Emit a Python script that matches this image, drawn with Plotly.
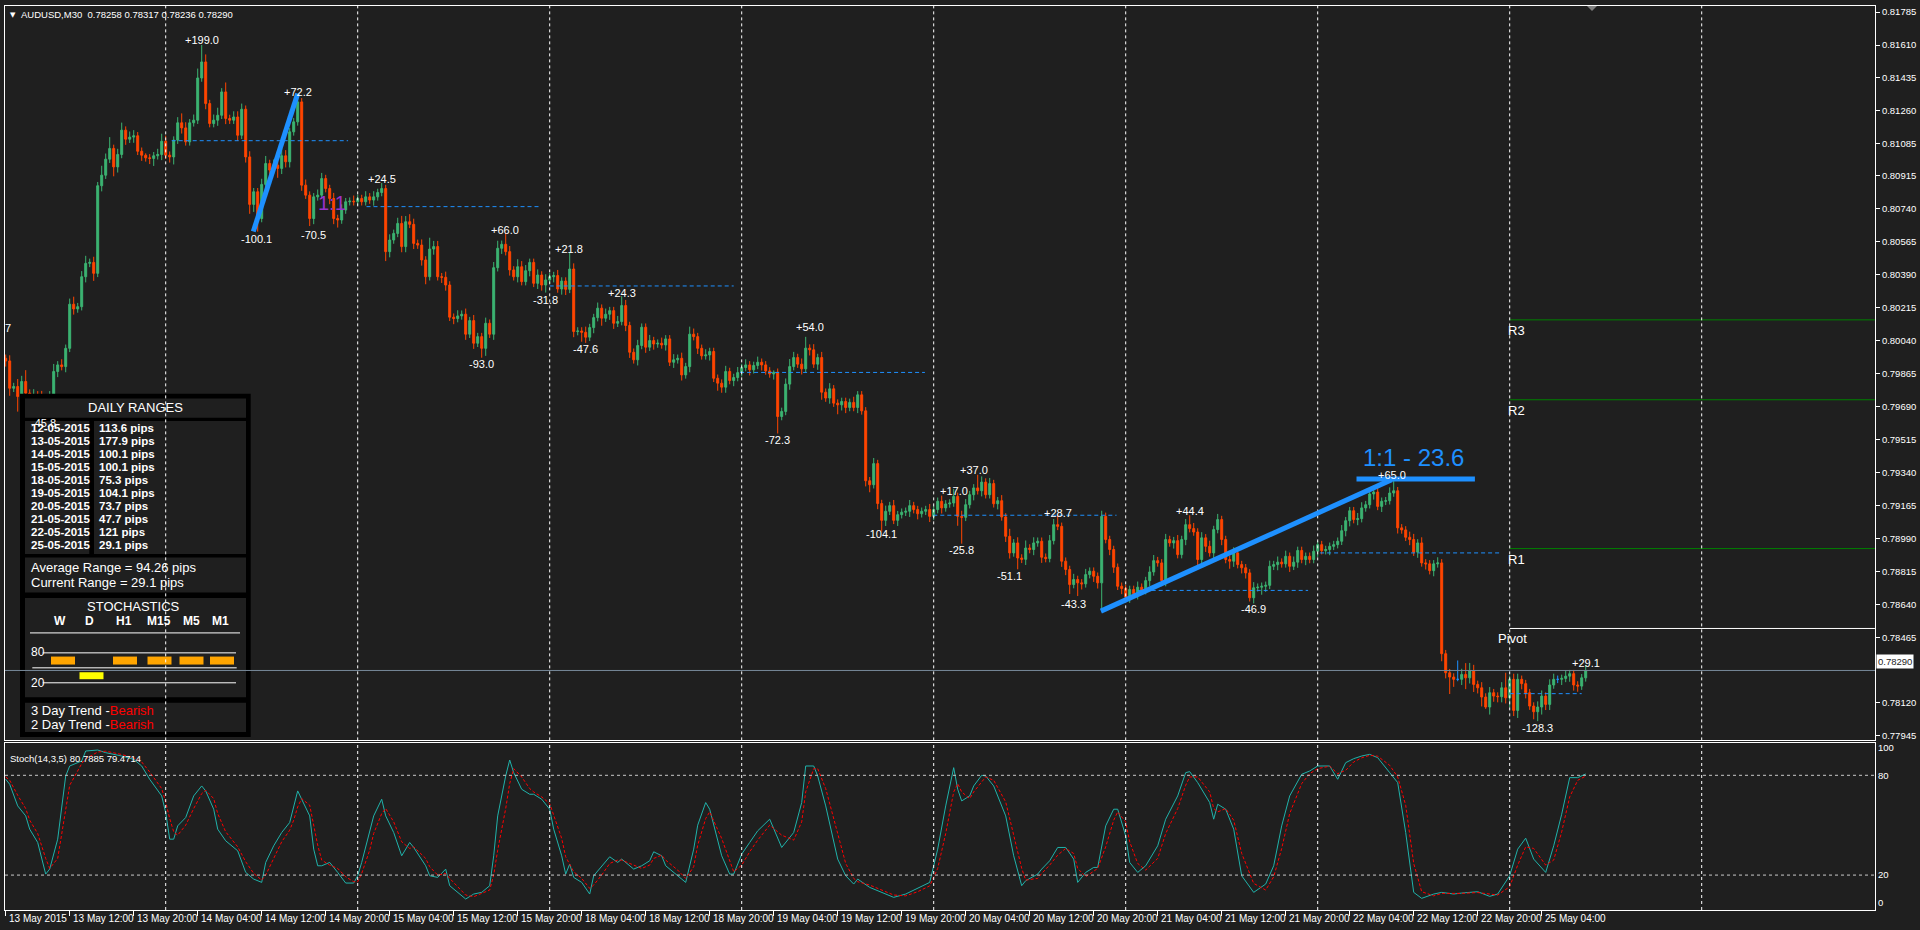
import plotly.graph_objects as go

# ============================ DATA ============================
SYMBOL = "AUDUSD,M30"
header_ohlc = ["0.78258", "0.78317", "0.78236", "0.78290"]
PIP = 0.0001
BASE_PRICE = 0.78000          # bar values below are pips above this price

first_open_pips = 194.7
close_pips = [
    193.3, 178.8, 179.7, 174.4, 182.4, 176.2, 171.8, 175.3, 174.4, 166.5,
    172.7, 175.3, 187.7, 191.2, 190.3, 200.0, 223.4, 220.9, 222.1, 238.0,
    245.1, 245.6, 239.8, 286.3, 291.9, 300.4, 306.1, 296.3, 302.9, 315.8,
    311.0, 312.1, 312.8, 304.6, 302.5, 301.1, 300.8, 302.2, 302.9, 309.9,
    302.5, 301.6, 310.5, 319.7, 317.0, 309.6, 319.7, 321.1, 343.5, 352.0,
    329.9, 319.3, 321.1, 323.7, 336.1, 322.0, 321.1, 322.8, 313.1, 326.9,
    301.6, 276.4, 283.1, 268.9, 287.0, 298.1, 294.6, 297.2, 295.5, 302.2,
    299.0, 314.9, 320.2, 330.8, 286.6, 281.3, 268.9, 280.4, 281.3, 290.1,
    284.8, 279.5, 268.9, 268.1, 273.4, 277.8, 278.1, 277.8, 279.5, 277.8,
    280.4, 278.7, 280.4, 282.7, 284.8, 251.3, 257.5, 261.0, 266.3,
    254.0, 267.2, 265.8, 255.7, 254.8, 246.9, 238.0, 252.7, 254.0, 238.0,
    237.7, 233.6, 216.5, 215.8, 217.2, 218.1, 207.5, 214.7, 202.7, 206.2,
    200.0, 213.3, 207.5, 242.8, 253.1, 255.2, 251.3, 241.6, 238.0, 243.3,
    235.4, 241.2, 245.6, 234.5, 238.9, 233.6, 236.3, 238.0, 238.6, 231.5,
    235.7, 231.3, 242.1, 208.9, 209.2, 208.5, 205.9, 211.0, 216.3, 221.3,
    216.0, 218.1, 220.0, 213.3, 214.2, 222.7, 212.1, 197.9, 193.9, 201.5,
    211.2, 200.6, 204.1, 202.3, 202.7, 201.8, 205.0, 192.6, 193.9, 194.7,
    185.9, 190.3, 207.5, 206.2, 200.0, 196.0, 196.5, 198.3, 184.1, 181.5,
    179.4, 187.7, 182.9, 184.5, 187.1, 189.8, 191.2, 188.6, 190.9, 192.6,
    191.2, 188.0, 186.4, 187.3, 163.8, 166.5, 181.0, 190.3, 195.1, 191.6,
    189.1, 200.1, 199.2, 191.6, 195.1, 176.7, 173.6, 178.5, 170.9, 170.0,
    171.8, 168.6, 171.3, 168.6, 175.3, 166.8, 129.7, 127.6, 138.8, 117.6,
    108.7, 113.5, 116.5, 108.7, 111.7, 113.0, 113.5, 116.5, 114.4, 112.2,
    113.5, 114.4, 110.8, 114.4, 118.8, 115.3, 117.4, 117.9, 121.4, 110.8,
    110.3, 117.0, 122.3, 125.9, 124.4, 129.0, 122.3, 128.2, 117.5, 119.1,
    110.5, 100.2, 91.4, 96.7, 88.7, 88.0, 94.0, 93.2, 96.7, 97.6,
    89.1, 88.4, 97.9, 106.4, 105.5, 87.0, 82.6, 74.6, 77.3, 75.5,
    75.0, 79.9, 81.7, 79.0, 75.5, 110.8, 98.5, 93.2, 83.8, 73.7,
    72.5, 67.9, 72.0, 69.7, 73.2, 71.4, 76.7, 81.3, 87.3, 86.1,
    76.7, 98.5, 96.7, 97.9, 90.5, 98.5, 106.4, 104.3, 102.5, 87.9,
    99.4, 94.9, 91.4, 103.8, 109.1, 98.5, 87.9, 87.0, 91.4, 85.2,
    83.5, 80.8, 67.6, 72.9, 73.2, 73.7, 74.2, 84.3, 85.2, 86.5,
    85.6, 89.6, 84.3, 86.5, 92.7, 87.9, 89.6, 87.9, 92.3, 95.8,
    92.6, 93.2, 94.9, 95.8, 97.6, 103.2, 108.5, 113.8, 109.1, 109.6,
    115.3, 117.0, 122.7, 123.7, 116.1, 118.8, 119.1, 123.2, 124.4, 104.7,
    103.6, 99.7, 98.5, 91.8, 96.7, 86.1, 85.6, 82.0, 85.6, 86.1,
    37.9, 27.8, 25.5, 24.3, 24.3, 26.9, 25.1, 29.0, 21.6, 19.8,
    14.9, 9.6, 17.2, 15.4, 15.1, 19.8, 14.5, 24.3, 7.8, 24.3,
    22.0, 17.2, 10.1, 7.1, 9.6, 15.4, 11.0, 21.3, 24.3, 24.3,
    24.8, 26.0, 27.3, 21.3, 20.7, 25.1, 29.0,
]
upper_wick_pips = [
    2, 3, 2, 4, 3, 6, 2, 3, 2, 3,   3, 2, 4, 2, 3, 2, 3, 4, 2, 3,
    4, 2, 3, 2, 5, 3, 6, 2, 3, 4,   2, 3, 3, 2, 2, 1, 2, 2, 3, 4,
    3, 2, 2, 3, 5, 3, 2, 3, 5, 9,   4, 2, 3, 4, 2, 5, 2, 3, 3, 3,
    2, 3, 2, 2, 3, 4, 2, 3, 2, 4,   3, 2, 2, 4, 2, 3, 2, 2, 3, 3,
    2, 2, 3, 2, 3, 2, 2, 3, 2, 2,   3, 2, 3, 2, 3, 2, 3, 2, 3, 4,
    3, 4, 3, 2, 3, 2, 6, 3, 3, 2,   3, 2, 2, 3, 2, 3, 2, 3, 2, 2,
    3, 2, 3, 4, 2, 6, 3, 2, 4, 3,   3, 2, 2, 3, 2, 3, 2, 2, 3, 2,
    2, 9, 3, 2, 2, 3, 2, 2, 3, 2,   3, 2, 2, 3, 5, 3, 2, 2, 3, 2,
    2, 3, 2, 2, 3, 2, 2, 3, 2, 3,   2, 4, 3, 2, 2, 3, 2, 2, 2, 2,
    3, 2, 2, 3, 2, 3, 2, 2, 3, 2,   2, 2, 1, 2, 2, 3, 4, 3, 2, 3,
    6, 2, 3, 2, 3, 2, 3, 2, 2, 2,   2, 2, 3, 2, 2, 2, 2, 3, 2, 2,
    3, 2, 3, 2, 2, 2, 3, 2, 2, 2,   2, 3, 2, 2, 3, 2, 2, 4, 2, 3,
    3, 2, 2, 7, 3, 2, 3, 2, 2, 3,   2, 4, 2, 3, 2, 4, 2, 3, 2, 2,
    2, 3, 3, 5, 2, 2, 2, 3, 2, 2,   3, 2, 2, 2, 3, 2, 2, 2, 2, 2,
    2, 2, 2, 3, 2, 2, 3, 3, 2, 2,   3, 2, 2, 3, 2, 3, 5, 3, 2, 3,
    2, 3, 2, 3, 2, 2, 2, 3, 2, 2,   2, 2, 3, 2, 2, 2, 3, 2, 3, 2,
    3, 2, 3, 2, 2, 2, 2, 3, 2, 2,   2, 2, 2, 2, 3, 2, 2, 2, 3, 3,
    2, 3, 2, 3, 2, 2, 3, 6, 2, 2,   2, 3, 3, 2, 3, 2, 2, 2, 3, 2,
    2, 2, 2, 10, 3, 6, 4, 3, 2, 3,  2, 3, 2, 2, 3, 8, 2, 3, 3, 2,
    2, 2, 2, 3, 3, 2, 3, 3, 2, 2,   3, 2, 2, 2, 2, 3,
]
lower_wick_pips = [
    3, 4, 2, 8, 2, 3, 2, 3, 2, 3,   4, 2, 2, 3, 2, 3, 2, 3, 2, 2,
    3, 2, 4, 2, 3, 2, 2, 5, 3, 2,   3, 2, 3, 2, 3, 2, 3, 4, 2, 3,
    2, 3, 4, 2, 3, 2, 2, 2, 2, 2,   3, 2, 2, 3, 2, 3, 2, 2, 3, 2,
    3, 5, 4, 7, 2, 3, 3, 2, 5, 3,   3, 3, 2, 2, 3, 2, 4, 3, 2, 2,
    2, 3, 3, 4, 2, 2, 2, 2, 2, 2,   2, 2, 3, 2, 2, 5, 3, 2, 2, 3,
    3, 2, 3, 2, 3, 4, 2, 3, 2, 3,   3, 2, 3, 2, 2, 3, 2, 3, 2, 5,
    4, 2, 3, 2, 3, 2, 3, 2, 3, 2,   2, 3, 2, 3, 3, 4, 2, 3, 2, 3,
    3, 2, 3, 2, 5, 3, 2, 3, 2, 4,   2, 3, 3, 2, 2, 3, 3, 2, 3, 2,
    3, 2, 3, 2, 2, 3, 2, 3, 2, 3,   2, 3, 2, 3, 2, 2, 3, 2, 4, 3,
    3, 2, 3, 2, 2, 2, 3, 2, 2, 3,   2, 2, 3, 9, 2, 2, 3, 2, 2, 3,
    2, 3, 2, 3, 4, 2, 3, 2, 5, 3,   3, 2, 2, 3, 2, 3, 4, 2, 3, 6,
    3, 2, 2, 3, 2, 2, 3, 2, 3, 2,   2, 3, 2, 2, 3, 2, 2, 2, 5, 14,
    2, 2, 3, 2, 3, 2, 2, 2, 3, 2,   3, 3, 2, 6, 2, 3, 2, 3, 2, 3,
    2, 2, 2, 2, 3, 3, 5, 2, 7, 3,   2, 2, 3, 3, 15, 2, 3, 3, 2, 3,
    2, 3, 2, 3, 2, 2, 3, 2, 2, 3,   3, 2, 3, 2, 2, 3, 2, 2, 3, 2,
    3, 2, 3, 2, 3, 2, 4, 3, 2, 3,   3, 2, 3, 2, 4, 3, 2, 2, 3, 2,
    2, 3, 2, 3, 2, 3, 2, 2, 3, 2,   2, 3, 2, 2, 2, 3, 3, 2, 3, 2,
    2, 2, 3, 2, 3, 2, 2, 2, 3, 2,   2, 3, 2, 3, 2, 3, 2, 3, 2, 4,
    3, 9, 4, 1, 3, 6, 3, 4, 3, 5,   1, 4, 3, 3, 3, 3, 5, 3, 4, 3,
    3, 2, 4, 5, 4, 3, 3, 2, 2, 3,   2, 3, 3, 3, 2, 2,
]

time_label_bars = [0, 16, 32, 48, 64, 80, 96, 112, 128, 144, 160, 176, 192,
                   208, 224, 240, 256, 272, 288, 304, 320, 336, 352, 368, 384]
time_labels = ["13 May 2015", "13 May 12:00", "13 May 20:00", "14 May 04:00",
               "14 May 12:00", "14 May 20:00", "15 May 04:00", "15 May 12:00",
               "15 May 20:00", "18 May 04:00", "18 May 12:00", "18 May 20:00",
               "19 May 04:00", "19 May 12:00", "19 May 20:00", "20 May 04:00",
               "20 May 12:00", "20 May 20:00", "21 May 04:00", "21 May 12:00",
               "21 May 20:00", "22 May 04:00", "22 May 12:00", "22 May 20:00",
               "25 May 04:00"]
day_start_bars = [40, 88, 136, 184, 232, 280, 328, 376, 424]

price_tick_values = [0.81785, 0.81610, 0.81435, 0.81260, 0.81085, 0.80915,
                     0.80740, 0.80565, 0.80390, 0.80215, 0.80040, 0.79865,
                     0.79690, 0.79515, 0.79340, 0.79165, 0.78990, 0.78815,
                     0.78640, 0.78465, 0.78120, 0.77945]
current_price = 0.78290

# swing labels (text, bar, pips above base)
swing_text = ["+199.0", "-100.1", "+72.2", "-70.5", "+24.5", "-93.0", "+66.0",
              "-31.8", "+21.8", "-47.6", "+24.3", "-72.3", "+54.0", "-104.1",
              "+17.0", "+37.0", "-25.8", "-51.1", "+28.7", "-43.3", "+44.4",
              "-46.9", "+65.0", "-128.3", "+29.1", "-45.8", "7"]
swing_bar = [49, 62.75, 73, 76.9, 94, 119, 124.9, 135, 140.9, 145, 154, 193,
             201, 219, 237, 242, 239, 251, 263, 267, 296, 312, 346.5, 383,
             395, 9.4, 0.65]
swing_pips = [363.5, 258.0, 335.8, 260.2, 290.1, 191.6, 262.8, 225.7, 252.7,
              199.7, 229.6, 151.5, 211.2, 101.7, 124.1, 135.2, 92.8, 79.1,
              112.6, 64.1, 113.5, 61.4, 132.6, -1.4, 33.1, 160.3, 210.6]

# dashed blue levels
level_pips = [310.2, 275.2, 233.1, 187.2, 111.4, 71.5, 91.4, 16.7]
level_from_bar = [41.5, 90.2, 136, 183.6, 231.9, 283, 328.6, 376]
level_to_bar = [85.6, 133.6, 182, 229.8, 277.7, 325.6, 374, 394]

# blue trend lines
trend_bar0 = [61.9, 273.8, 337.7]
trend_pips0 = [262.0, 60.5, 130.6]
trend_bar1 = [73.0, 346.5, 367.3]
trend_pips1 = [335.2, 130.3, 130.6]
ratio_text = "1:1 - 23.6"
ratio_bar, ratio_pips = 351.9, 141.8
small_ratio_text = "1:1"
small_ratio_bar, small_ratio_pips = 81.6, 277.0

# pivot levels
pivot_names = ["R3", "R2", "R1", "Pivot"]
pivot_prices = [0.80151, 0.79727, 0.78937, 0.78513]
pivot_colors = ["#008000", "#008000", "#008000", "#FFFFFF"]
pivot_start_bar = 376

# stochastic (14,3,5)
stoch_bars = [0, 1, 3, 5, 6, 8, 10, 11, 13, 15,
              16, 19, 20, 23, 25, 29, 32, 34, 36, 39,
              40, 41, 42, 43, 45, 47, 49, 50, 52, 53,
              55, 58, 60, 62, 64, 65, 67, 69, 71, 72,
              73, 74, 76, 77, 78, 79, 81, 83, 85, 87,
              88, 89, 91, 92, 94, 95, 97, 99, 101, 102,
              105, 106, 108, 110, 111, 113, 115, 117, 119, 121,
              122, 123, 125, 126, 127, 129, 131, 132, 134, 136,
              137, 139, 140, 141, 142, 144, 146, 147, 149, 151,
              153, 154, 157, 159, 161, 162, 164, 165, 168, 170,
              172, 173, 175, 176, 179, 181, 182, 184, 186, 188,
              191, 194, 197, 199, 200, 202, 203, 205, 208, 210,
              212, 213, 216, 219, 222, 225, 228, 231, 233, 235,
              237, 238, 239, 241, 242, 244, 245, 247, 250, 252,
              254, 255, 258, 259, 261, 263, 265, 267, 268, 270,
              272, 273, 275, 277, 278, 280, 281, 283, 285, 288,
              290, 293, 295, 296, 298, 301, 302, 303, 305, 307,
              309, 312, 315, 317, 319, 321, 324, 326, 328, 330,
              331, 333, 335, 337, 339, 341, 343, 346, 348, 350,
              352, 354, 357, 359, 362, 364, 368, 371, 373, 376,
              378, 380, 382, 385, 387, 389, 391, 393, 395]
stoch_main = [77.6, 74.6, 61.6, 55.6, 47.6, 39.6, 20.6, 23.6, 41.6, 79.6,
              85.6, 88.6, 94.6, 95.2, 93.6, 91.6, 89.6, 85.6, 77.6, 67.6,
              57.6, 41.6, 41.6, 49.6, 54.6, 67.6, 73.6, 70.6, 59.6, 47.6,
              40.6, 34.6, 21.6, 17.6, 15.6, 27.6, 37.6, 45.6, 51.6, 61.6,
              70.6, 65.6, 55.6, 35.6, 25.6, 25.6, 27.6, 21.6, 15.2, 15.2,
              19.6, 27.6, 45.6, 55.6, 65.6, 55.6, 45.6, 31.6, 39.6, 36.6,
              25.6, 19.6, 18.6, 23.6, 13.6, 9.6, 5.6, 8.6, 9.6, 13.6,
              31.6, 55.6, 79.6, 89.2, 81.6, 71.6, 68.6, 68.6, 65.6, 59.6,
              47.6, 31.6, 20.6, 26.6, 18.6, 15.6, 8.6, 19.6, 25.6, 31.0,
              27.6, 29.6, 23.6, 25.6, 28.6, 34.0, 31.6, 25.6, 19.6, 15.6,
              35.6, 50.0, 63.6, 59.6, 31.6, 20.6, 20.6, 32.6, 39.6, 46.6,
              53.6, 36.6, 45.6, 63.6, 85.6, 85.6, 79.6, 61.6, 29.6, 19.6,
              14.6, 17.6, 12.6, 9.6, 6.6, 8.6, 12.0, 15.6, 35.6, 61.6,
              84.6, 71.6, 64.6, 67.6, 73.6, 80.0, 79.6, 73.6, 55.6, 31.6,
              13.6, 16.6, 20.6, 23.6, 28.6, 36.6, 36.6, 29.6, 15.6, 21.6,
              24.6, 24.6, 49.6, 59.6, 59.6, 43.6, 27.6, 21.6, 25.6, 37.6,
              53.6, 67.6, 81.6, 82.2, 75.6, 63.6, 53.6, 62.6, 59.6, 47.6,
              19.6, 9.6, 14.6, 25.6, 49.6, 67.6, 80.6, 82.6, 85.6, 85.6,
              85.6, 77.6, 87.6, 90.0, 91.6, 92.6, 90.6, 81.6, 75.6, 45.6,
              9.6, 6.0, 8.6, 9.6, 8.6, 9.2, 10.0, 7.2, 8.6, 19.6,
              35.6, 42.2, 29.6, 21.6, 37.6, 56.6, 78.6, 78.6, 80.8]
stoch_signal = [79, 77, 68, 60, 53, 45, 30, 24, 30, 60,
                74, 87, 90, 94, 94.5, 92.5, 90.5, 88, 82, 72,
                64, 54, 46, 44, 50, 60, 69, 71, 66, 57,
                46, 37, 28, 21, 17, 20, 30, 40, 47, 53,
                61, 66, 62, 50, 38, 29, 26, 24, 19, 16,
                16, 21, 35, 45, 57, 60, 52, 40, 36, 37,
                30, 25, 20, 21, 18, 13, 8, 7, 9, 11,
                20, 35, 60, 75, 84, 79, 72, 70, 67, 63,
                56, 42, 31, 26, 22, 18, 12, 14, 20, 27,
                29, 29, 26, 24, 26, 30, 32, 29, 23, 18,
                25, 38, 54, 58, 42, 28, 22, 26, 34, 41,
                50, 44, 41, 52, 70, 84, 84, 72, 44, 27,
                18, 16, 14, 11, 8, 7.5, 10, 13.5, 24, 45,
                70, 75, 70, 66, 70, 76, 79, 77, 64, 44,
                24, 17, 18, 21, 26, 32, 36, 33, 24, 19,
                22, 24, 37, 53, 58, 52, 40, 27, 23, 30,
                45, 60, 74, 79, 79, 70, 60, 58, 60, 53,
                33, 15, 11, 19, 36, 57, 75, 81, 84, 85,
                85.5, 81, 83, 88, 90.5, 92, 91.5, 86, 79, 62,
                27, 10, 7.5, 9, 9, 9, 9.5, 8.5, 8, 13,
                26, 37, 36, 26, 29, 46, 67, 77, 79.5]
stoch_levels = [80, 20]
stoch_title = "Stoch(14,3,5) 80.7885 79.4714"

# daily-ranges info panel
daily_dates = ["12-05-2015", "13-05-2015", "14-05-2015", "15-05-2015", "18-05-2015",
               "19-05-2015", "20-05-2015", "21-05-2015", "22-05-2015", "25-05-2015"]
daily_ranges = ["113.6", "177.9", "100.1", "100.1", "75.3",
                "104.1", "73.7", "47.7", "121", "29.1"]
average_range = "94.26"
current_range = "29.1"
stoch_timeframes = ["W", "D", "H1", "M15", "M5", "M1"]
stoch_tf_state = ["up", "down", "up", "up", "up", "up"]
trend_rows = [("3 Day Trend", "Bearish"), ("2 Day Trend", "Bearish")]

# ============================ STYLE ============================
BG = "#1f1f1f"
BULL = "#3CB371"
BEAR = "#FF4500"
DOJI = "#1E90FF"
BLUE = "#1E90FF"
SANS = "Liberation Sans, Arial, sans-serif"

W, H = 1920, 930
PL, PR, PT, PB = 5, 1875, 4, 910          # plotting area in pixels


def px(x):
    return (x - PL) / (PR - PL)


def py(y):
    return (PB - y) / (PB - PT)


def price(p):
    return BASE_PRICE + p * PIP


# ============================ BARS ============================
opens = [first_open_pips] + close_pips[:-1]
groups = {"bull": [], "bear": [], "doji": []}
for i, (o, c) in enumerate(zip(opens, close_pips)):
    hi = max(o, c) + upper_wick_pips[i]
    lo = min(o, c) - lower_wick_pips[i]
    key = "doji" if abs(c - o) < 0.05 else ("bull" if c > o else "bear")
    groups[key].append((i, price(o), price(hi), price(lo), price(c)))

fig = go.Figure()
for key, col in (("bull", BULL), ("bear", BEAR), ("doji", DOJI)):
    rows = groups[key]
    if not rows:
        continue
    fig.add_trace(go.Candlestick(
        x=[r[0] for r in rows], open=[r[1] for r in rows], high=[r[2] for r in rows],
        low=[r[3] for r in rows], close=[r[4] for r in rows],
        increasing=dict(line=dict(color=col, width=1), fillcolor=col),
        decreasing=dict(line=dict(color=col, width=1), fillcolor=col),
        whiskerwidth=0, showlegend=False, hoverinfo="skip",
        xaxis="x", yaxis="y"))

fig.add_trace(go.Scatter(x=stoch_bars, y=stoch_main, mode="lines",
                         line=dict(color="#20B2AA", width=1),
                         showlegend=False, hoverinfo="skip", xaxis="x2", yaxis="y2"))
fig.add_trace(go.Scatter(x=stoch_bars, y=stoch_signal, mode="lines",
                         line=dict(color="#FF0000", width=1, dash="3px,2px"),
                         showlegend=False, hoverinfo="skip", xaxis="x2", yaxis="y2"))

# ============================ SHAPES ============================
shapes = []


def rect(x0, y0, x1, y1, fill):
    shapes.append(dict(type="rect", xref="paper", yref="paper",
                       x0=px(x0), x1=px(x1), y0=py(y1), y1=py(y0),
                       fillcolor=fill, line=dict(width=0), layer="above"))


def hline_px(x0, x1, y, color="#FFFFFF", width=1):
    shapes.append(dict(type="line", xref="paper", yref="paper",
                       x0=px(x0), x1=px(x1), y0=py(y), y1=py(y),
                       line=dict(color=color, width=width), layer="above"))


# info panel
rect(20, 392.7, 250.7, 736.7, "#000000")
rect(25, 397.3, 246, 416.7, BG)
rect(25, 420, 89.3, 553.3, BG)
rect(94, 420, 246, 553.3, BG)
rect(25, 556.7, 246, 591.7, BG)
rect(25, 597.3, 246, 696.7, BG)
rect(25, 702.3, 246, 731.7, BG)
hline_px(30, 240, 632.3)
hline_px(42.7, 236, 652.3)
hline_px(32.3, 236.7, 667.3)
hline_px(42.7, 236, 682.3)
tf_centers = [63, 91.5, 125, 159.5, 191.5, 222]
for cx, st in zip(tf_centers, stoch_tf_state):
    if st == "up":
        rect(cx - 12, 656, cx + 12, 664, "#FFA500")
    else:
        rect(cx - 12, 671.7, cx + 12, 678.7, "#FFFF00")

# dashed blue levels
for p, a, b in zip(level_pips, level_from_bar, level_to_bar):
    shapes.append(dict(type="line", xref="x", yref="y", x0=a, x1=b,
                       y0=price(p), y1=price(p),
                       line=dict(color=BLUE, width=1, dash="4px,3px"), layer="above"))

# pivot lines
for name, pp, col in zip(pivot_names, pivot_prices, pivot_colors):
    shapes.append(dict(type="line", xref="x", yref="y", x0=pivot_start_bar, x1=467.3,
                       y0=pp, y1=pp, line=dict(color=col, width=1), layer="above"))

# current price line
shapes.append(dict(type="line", xref="paper", yref="y", x0=0, x1=1,
                   y0=current_price, y1=current_price,
                   line=dict(color="#778899", width=1), layer="above"))

# vertical day grid (both panes)
for b in day_start_bars:
    shapes.append(dict(type="line", xref="x", yref="paper", x0=b, x1=b,
                       y0=py(740), y1=1, line=dict(color="#FFFFFF", width=1, dash="3px,3px"),
                       layer="above"))
    shapes.append(dict(type="line", xref="x", yref="paper", x0=b, x1=b,
                       y0=0, y1=py(743), line=dict(color="#FFFFFF", width=1, dash="3px,3px"),
                       layer="above"))

# stochastic levels
for lv in stoch_levels:
    shapes.append(dict(type="line", xref="paper", yref="y2", x0=0, x1=1, y0=lv, y1=lv,
                       line=dict(color="#C8C8C8", width=1, dash="3px,3px"), layer="above"))

# trend lines
for a, pa, b, pb in zip(trend_bar0, trend_pips0, trend_bar1, trend_pips1):
    shapes.append(dict(type="line", xref="x", yref="y", x0=a, x1=b,
                       y0=price(pa), y1=price(pb),
                       line=dict(color=BLUE, width=5), layer="above"))

# chart-shift marker
shapes.append(dict(type="path", xref="paper", yref="paper",
                   path="M %f %f L %f %f L %f %f Z" % (px(1587), py(4), px(1597), py(4), px(1592), py(9)),
                   fillcolor="#808080", line=dict(width=0), layer="above"))

# ============================ ANNOTATIONS ============================
ann = []


def text_px(x, y, s, size=12, color="#FFFFFF", anchor="left", family=SANS, bold=False):
    if bold:
        s = "<b>%s</b>" % s
    ann.append(dict(xref="paper", yref="paper", x=px(x), y=py(y), text=s,
                    showarrow=False, xanchor=anchor, yanchor="middle",
                    font=dict(family=family, size=size, color=color)))


# header
text_px(8, 12.7, "▼", size=7, family="DejaVu Sans")
text_px(19, 12.7, SYMBOL + "  " + " ".join(header_ohlc), size=9.5)
# stochastic title
text_px(8, 757.7, stoch_title, size=9.5)

# info panel text
text_px(135.5, 406.5, "DAILY RANGES", size=13, anchor="center")
for k, (d, r) in enumerate(zip(daily_dates, daily_ranges)):
    yy = 426.7 + 13.07 * k
    text_px(28.5, yy, d, size=11.5, bold=True)
    text_px(96.5, yy, r + " pips", size=11.5, bold=True)
text_px(29, 566.7, "Average Range = %s pips" % average_range, size=13)
text_px(29, 581.7, "Current Range = %s pips" % current_range, size=13)
text_px(133, 606.3, "STOCHASTICS", size=13, anchor="center")
tf_label_x = [60, 89.3, 124, 159, 191.7, 220.7]
for tx, tf in zip(tf_label_x, stoch_timeframes):
    text_px(tx, 620.7, tf, size=12, anchor="center", bold=True)
text_px(29, 651, "80", size=12)
text_px(29, 682.3, "20", size=12)
for k, (label, state) in enumerate(trend_rows):
    text_px(29, 710 + 14.3 * k,
            "%s -<span style='color:#FF0000'>%s</span>" % (label, state), size=13)

# swing labels
for t, b, p in zip(swing_text, swing_bar, swing_pips):
    ann.append(dict(xref="x", yref="y", x=b, y=price(p), text=t, showarrow=False,
                    xanchor="center", yanchor="middle",
                    font=dict(family=SANS, size=11, color="#FFFFFF")))

# ratio texts
ann.append(dict(xref="x", yref="y", x=ratio_bar, y=price(ratio_pips), text=ratio_text,
                showarrow=False, xanchor="center", yanchor="middle",
                font=dict(family=SANS, size=24, color=BLUE)))
ann.append(dict(xref="x", yref="y", x=small_ratio_bar, y=price(small_ratio_pips),
                text=small_ratio_text, showarrow=False, xanchor="center", yanchor="middle",
                font=dict(family=SANS, size=20, color="#9932CC")))

# pivot labels
for name, pp in zip(pivot_names, pivot_prices):
    if name == "Pivot":
        ann.append(dict(xref="x", yref="y", x=pivot_start_bar, y=pp, text=name,
                        showarrow=False, xanchor="center", yanchor="top", yshift=-1,
                        xshift=3, font=dict(family=SANS, size=13, color="#FFFFFF")))
    else:
        ann.append(dict(xref="x", yref="y", x=pivot_start_bar, y=pp, text=name,
                        showarrow=False, xanchor="left", yanchor="top", yshift=-1,
                        xshift=-4, font=dict(family=SANS, size=13, color="#FFFFFF")))

# current price tag
ann.append(dict(xref="paper", yref="y", x=1, y=current_price, text="%.5f" % current_price,
                showarrow=False, xanchor="left", yanchor="middle", xshift=1, yshift=9,
                bgcolor="#FFFFFF", borderpad=1,
                font=dict(family=SANS, size=9.5, color="#1f1f1f")))

# time labels
for b, t in zip(time_label_bars, time_labels):
    ann.append(dict(xref="x", yref="paper", x=b, y=0, text=t, showarrow=False,
                    xanchor="left", yanchor="top", xshift=1, yshift=-1,
                    font=dict(family=SANS, size=10, color="#FFFFFF")))

# ============================ LAYOUT ============================
axis_common = dict(showgrid=False, zeroline=False, showline=True, linecolor="#FFFFFF",
                   linewidth=1, mirror=True)
fig.update_layout(
    width=W, height=H, autosize=False,
    margin=dict(l=PL, r=W - PR, t=PT, b=H - PB, pad=0),
    paper_bgcolor=BG, plot_bgcolor=BG,
    showlegend=False, shapes=shapes, annotations=ann, boxgap=0.3,
    xaxis=dict(domain=[0, 1], anchor="y", range=[-0.175, 467.325],
               showticklabels=False, ticks="", rangeslider=dict(visible=False),
               **axis_common),
    yaxis=dict(domain=[py(740), 1], anchor="x", side="right",
               range=[0.77919, 0.81817], tickvals=price_tick_values,
               ticktext=["%.5f" % v for v in price_tick_values],
               ticks="outside", ticklen=4, tickcolor="#FFFFFF",
               tickfont=dict(family=SANS, size=9.5, color="#FFFFFF"), **axis_common),
    xaxis2=dict(domain=[0, 1], anchor="y2", matches="x", range=[-0.175, 467.325],
                tickvals=time_label_bars, showticklabels=False, ticks="outside",
                ticklen=5, tickcolor="#FFFFFF", **axis_common),
    yaxis2=dict(domain=[0, py(743)], anchor="x2", side="right", range=[-1, 99.2],
                tickvals=[96.8, 80, 20, 3.2], ticktext=["100", "80", "20", "0"],
                ticks="", tickfont=dict(family=SANS, size=9.5, color="#FFFFFF"),
                **axis_common),
)

fig.write_html("out.html", config={"displayModeBar": False},
               post_script="document.body.style.margin='0px';document.body.style.overflow='hidden';")
